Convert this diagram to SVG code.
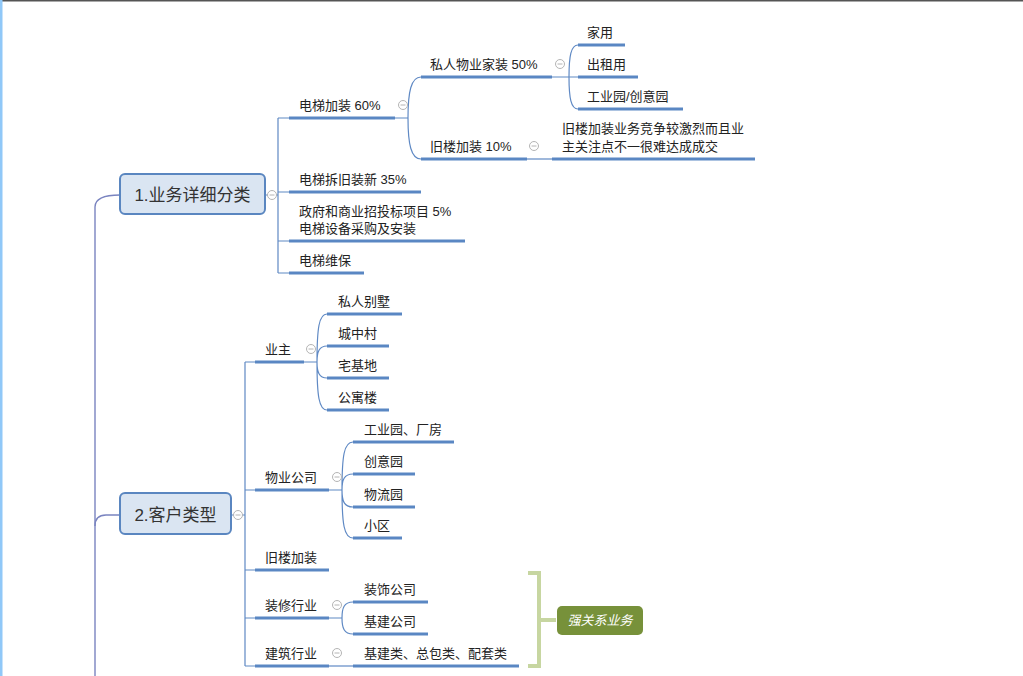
<svg xmlns="http://www.w3.org/2000/svg" width="1023" height="676" viewBox="0 0 1023 676">
<style>
.t{font-family:"Liberation Sans","Noto Sans CJK SC",sans-serif;font-size:13px;fill:#222}
.nt{font-family:"Liberation Sans","Noto Sans CJK SC",sans-serif;font-size:17px;fill:#333;text-anchor:middle}
.ul{stroke:#5a87c3;stroke-width:3;fill:none}
.c{stroke:#5f89c4;stroke-width:1.2;fill:none}
.root{stroke:#7a84c0;stroke-width:1.4;fill:none}
.node{fill:#dae5f2;stroke:#5a86c0;stroke-width:2}
.col circle{fill:#fff;stroke:#b4b4b4;stroke-width:1}
.col line{stroke:#b4b4b4;stroke-width:1}
</style>
<rect x="0" y="0" width="1023" height="676" fill="#fff"/>
<rect x="0" y="0" width="1023" height="1.5" fill="#555"/>
<rect x="0" y="0" width="2.5" height="676" fill="#90c8f8"/>

<g id="connectors">
  <path class="root" d="M120,195 Q95,195 95,207 L95,676"/>
  <path class="root" d="M95,526 Q95,515 106,515 L120,515"/>
  <!-- node1 -->
  <path class="c" d="M266,195 L278,195 M278,118 L278,273 M278,118 L289,118 M278,192 L289,192 M278,241 L289,241 M278,273 L289,273"/>
  <!-- 电梯加装 -->
  <path class="c" d="M395,118 L408,118 C408,92 411,77 421,77 M408,118 C408,144 411,159 421,159"/>
  <!-- 私人物业家装 -->
  <path class="c" d="M552,77 L578,77 M569,77 C569,56 571,45 578,45 M569,77 C569,98 571,109 578,109"/>
  <!-- 旧楼加装 10% -->
  <path class="c" d="M527,159 L552,159"/>
  <!-- node2 -->
  <path class="c" d="M232,515 L245,515 M245,362 L245,666 M245,362 L255,362 M245,490 L255,490 M245,570 L255,570 M245,618 L255,618 M245,666 L255,666"/>
  <!-- 业主 -->
  <path class="c" d="M304,362 L317,362 C317,328 319,314 327,314 M317,362 C317,352 319,346 327,346 M317,362 C317,372 319,378 327,378 M317,362 C317,396 319,410 327,410"/>
  <!-- 物业公司 -->
  <path class="c" d="M329,490 L342,490 C342,456 344,442 353,442 M342,490 C342,480 344,474 353,474 M342,490 C342,501 344,507 353,507 M342,490 C342,524 344,538 353,538"/>
  <!-- 装修行业 -->
  <path class="c" d="M329,618 L342,618 C342,608 344,602 353,602 M342,618 C342,628 344,634 353,634"/>
  <!-- 建筑行业 -->
  <path class="c" d="M329,666 L353,666"/>
</g>

<g id="node1">
  <rect class="node" x="120" y="174" width="145" height="40" rx="5"/>
  <text class="nt" x="192.5" y="201">1.业务详细分类</text>
</g>
<g id="node2">
  <rect class="node" x="120" y="493" width="111" height="41" rx="5"/>
  <text class="nt" x="175.5" y="521">2.客户类型</text>
</g>

<g id="n-dtjz"><path class="ul" d="M289,118 H395"/><text class="t" x="299" y="110">电梯加装 60%</text></g>
<g id="n-dtcj"><path class="ul" d="M289,192 H421"/><text class="t" x="299" y="184">电梯拆旧装新 35%</text></g>
<g id="n-zf"><path class="ul" d="M289,241 H465"/><text class="t" x="299" y="216">政府和商业招投标项目 5%</text><text class="t" x="299" y="233">电梯设备采购及安装</text></g>
<g id="n-wb"><path class="ul" d="M289,273 H364"/><text class="t" x="299" y="265">电梯维保</text></g>

<g id="n-srwy"><path class="ul" d="M421,77 H552"/><text class="t" x="430" y="69">私人物业家装 50%</text></g>
<g id="n-jljz"><path class="ul" d="M421,159 H527"/><text class="t" x="430" y="151">旧楼加装 10%</text></g>
<g id="n-jy"><path class="ul" d="M578,45 H625"/><text class="t" x="587" y="37">家用</text></g>
<g id="n-czy"><path class="ul" d="M578,77 H638"/><text class="t" x="587" y="69">出租用</text></g>
<g id="n-gyy"><path class="ul" d="M578,109 H683"/><text class="t" x="587" y="101">工业园/创意园</text></g>
<g id="n-jlnote"><path class="ul" d="M552,159 H755"/><text class="t" x="562" y="133">旧楼加装业务竞争较激烈而且业</text><text class="t" x="562" y="151">主关注点不一很难达成成交</text></g>

<g id="n-yz"><path class="ul" d="M255,362 H304"/><text class="t" x="265" y="354">业主</text></g>
<g id="n-srbs"><path class="ul" d="M327,314 H402"/><text class="t" x="338" y="306">私人别墅</text></g>
<g id="n-czc"><path class="ul" d="M327,346 H389"/><text class="t" x="338" y="338">城中村</text></g>
<g id="n-zjd"><path class="ul" d="M327,378 H389"/><text class="t" x="338" y="370">宅基地</text></g>
<g id="n-gyl"><path class="ul" d="M327,410 H389"/><text class="t" x="338" y="402">公寓楼</text></g>

<g id="n-wygs"><path class="ul" d="M255,490 H329"/><text class="t" x="265" y="482">物业公司</text></g>
<g id="n-gycf"><path class="ul" d="M353,442 H454"/><text class="t" x="364" y="434">工业园、厂房</text></g>
<g id="n-cyy"><path class="ul" d="M353,474 H415"/><text class="t" x="364" y="466">创意园</text></g>
<g id="n-wly"><path class="ul" d="M353,507 H415"/><text class="t" x="364" y="499">物流园</text></g>
<g id="n-xq"><path class="ul" d="M353,538 H402"/><text class="t" x="364" y="530">小区</text></g>

<g id="n-jljz2"><path class="ul" d="M255,570 H329"/><text class="t" x="265" y="562">旧楼加装</text></g>
<g id="n-zxhy"><path class="ul" d="M255,618 H329"/><text class="t" x="265" y="610">装修行业</text></g>
<g id="n-zsgs"><path class="ul" d="M353,602 H428"/><text class="t" x="364" y="594">装饰公司</text></g>
<g id="n-jjgs"><path class="ul" d="M353,634 H428"/><text class="t" x="364" y="626">基建公司</text></g>
<g id="n-jzhy"><path class="ul" d="M255,666 H329"/><text class="t" x="265" y="658">建筑行业</text></g>
<g id="n-jjl"><path class="ul" d="M353,666 H519"/><text class="t" x="364" y="658">基建类、总包类、配套类</text></g>

<g id="collapse" class="col">
  <circle cx="272" cy="195" r="4.5"/><line x1="269.5" y1="195" x2="274.5" y2="195"/>
  <circle cx="403" cy="105" r="4.5"/><line x1="400.5" y1="105" x2="405.5" y2="105"/>
  <circle cx="560" cy="64" r="4.5"/><line x1="557.5" y1="64" x2="562.5" y2="64"/>
  <circle cx="534" cy="146" r="4.5"/><line x1="531.5" y1="146" x2="536.5" y2="146"/>
  <circle cx="238" cy="515" r="4.5"/><line x1="235.5" y1="515" x2="240.5" y2="515"/>
  <circle cx="311" cy="349" r="4.5"/><line x1="308.5" y1="349" x2="313.5" y2="349"/>
  <circle cx="337" cy="477" r="4.5"/><line x1="334.5" y1="477" x2="339.5" y2="477"/>
  <circle cx="337" cy="605" r="4.5"/><line x1="334.5" y1="605" x2="339.5" y2="605"/>
  <circle cx="337" cy="653" r="4.5"/><line x1="334.5" y1="653" x2="339.5" y2="653"/>
</g>

<g id="summary">
  <path d="M528,573 H539 V666 H528 M539,620 H556" stroke="#c7d6a1" stroke-width="4" fill="none"/>
  <rect x="557" y="606" width="86" height="29" rx="5" fill="#77913a"/>
  <text x="600" y="625" font-family="'Liberation Sans','Noto Sans CJK SC',sans-serif" font-size="13" font-style="italic" fill="#fff" text-anchor="middle">强关系业务</text>
</g>
</svg>
